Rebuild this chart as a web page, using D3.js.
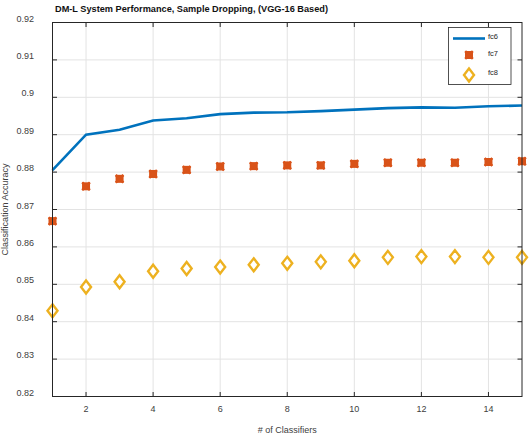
<!DOCTYPE html>
<html>
<head>
<meta charset="utf-8">
<script src="https://cdn.jsdelivr.net/npm/d3@7"></script>
<style>
  body { margin: 0; background: #fff; }
  svg { font-family: "Liberation Sans", Arial, sans-serif; }
</style>
</head>
<body>
<div id="chart"></div>
<script>
// data
const classifiers = [1, 2, 3, 4, 5, 6, 7, 8, 9, 10, 11, 12, 13, 14, 15];
const fc6 = [0.8805, 0.8900, 0.8913, 0.8938, 0.8944, 0.8955, 0.8959, 0.8960, 0.8963, 0.8967, 0.8971, 0.8973, 0.8972, 0.8976, 0.8978];
const fc7 = [0.8669, 0.8762, 0.8782, 0.8795, 0.8806, 0.8815, 0.8816, 0.8818, 0.8818, 0.8822, 0.8825, 0.8825, 0.8825, 0.8827, 0.8829];
const fc8 = [0.8429, 0.8493, 0.8507, 0.8535, 0.8542, 0.8546, 0.8552, 0.8556, 0.8560, 0.8563, 0.8572, 0.8574, 0.8574, 0.8572, 0.8572];
const xTicks = [2, 4, 6, 8, 10, 12, 14];
const yTicks = [0.82, 0.83, 0.84, 0.85, 0.86, 0.87, 0.88, 0.89, 0.90, 0.91, 0.92];

const W = 529, H = 434;
const margin = { top: 22.5, right: 7, bottom: 37.5, left: 52.5 };

const svg = d3.select("#chart").append("svg")
  .attr("width", W).attr("height", H);

const x = d3.scaleLinear().domain([1, 15]).range([margin.left, W - margin.right]);
const y = d3.scaleLinear().domain([0.82, 0.92]).range([H - margin.bottom, margin.top]);

const axisCol = "#262626";
const gridCol = "#e3e3e3";

// grid
svg.append("g").selectAll("line.vg").data(xTicks).join("line")
  .attr("x1", d => x(d)).attr("x2", d => x(d))
  .attr("y1", y(0.82)).attr("y2", y(0.92))
  .attr("stroke", gridCol).attr("stroke-width", 1);
svg.append("g").selectAll("line.hg").data(yTicks).join("line")
  .attr("x1", x(1)).attr("x2", x(15))
  .attr("y1", d => y(d)).attr("y2", d => y(d))
  .attr("stroke", gridCol).attr("stroke-width", 1);

// fc6 line
const line = d3.line().x((d, i) => x(classifiers[i])).y(d => y(d));
svg.append("path").datum(fc6)
  .attr("d", line)
  .attr("fill", "none")
  .attr("stroke", "#0072BD")
  .attr("stroke-width", 2.6);

// fc7 markers (chunky cross)
const crossPath = d3.symbol().type(d3.symbolX).size(40)();
function drawFc7(g, cx, cy) {
  g.append("rect")
    .attr("x", cx - 4).attr("y", cy - 4)
    .attr("width", 8).attr("height", 8)
    .attr("fill", "#D95319");
  g.append("path")
    .attr("d", crossPath)
    .attr("transform", `translate(${cx},${cy})`)
    .attr("fill", "none")
    .attr("stroke", "#D95319")
    .attr("stroke-width", 2.5);
}
const g7 = svg.append("g");
fc7.forEach((v, i) => drawFc7(g7, x(classifiers[i]), y(v)));

// fc8 markers (diamond)
function diamond(cx, cy) {
  return `M${cx},${cy - 6.5}L${cx + 5},${cy}L${cx},${cy + 6.5}L${cx - 5},${cy}Z`;
}
svg.append("g").selectAll("path").data(fc8).join("path")
  .attr("d", (d, i) => diamond(x(classifiers[i]), y(d)))
  .attr("fill", "#fff")
  .attr("stroke", "#EDB120")
  .attr("stroke-width", 2.4);

// box & ticks
const x0 = x(1), x1 = x(15), yB = y(0.82), yT = y(0.92);
svg.append("rect")
  .attr("x", x0).attr("y", yT)
  .attr("width", x1 - x0).attr("height", yB - yT)
  .attr("fill", "none").attr("stroke", axisCol).attr("stroke-width", 1);

const tk = 4.5;
const ticks = svg.append("g").attr("stroke", axisCol).attr("stroke-width", 1);
xTicks.forEach(t => {
  ticks.append("line").attr("x1", x(t)).attr("x2", x(t)).attr("y1", yB).attr("y2", yB - tk);
  ticks.append("line").attr("x1", x(t)).attr("x2", x(t)).attr("y1", yT).attr("y2", yT + tk);
});
yTicks.forEach(t => {
  ticks.append("line").attr("x1", x0).attr("x2", x0 + tk).attr("y1", y(t)).attr("y2", y(t));
  ticks.append("line").attr("x1", x1).attr("x2", x1 - tk).attr("y1", y(t)).attr("y2", y(t));
});

// tick labels
svg.append("g").selectAll("text").data(xTicks).join("text")
  .attr("x", d => x(d)).attr("y", yB + 15)
  .attr("text-anchor", "middle")
  .attr("font-size", 9).attr("fill", "#404040")
  .text(d => d);
svg.append("g").selectAll("text").data(yTicks).join("text")
  .attr("x", 34).attr("y", d => y(d) - 1)
  .attr("text-anchor", "end")
  .attr("font-size", 9).attr("fill", "#404040")
  .text(d => d3.format("")(+d.toFixed(2)));

// axis titles
svg.append("text")
  .attr("x", (x0 + x1) / 2).attr("y", 433)
  .attr("text-anchor", "middle")
  .attr("font-size", 9).attr("fill", "#404040")
  .text("# of Classifiers");
svg.append("text")
  .attr("transform", `translate(8,${(yT + yB) / 2}) rotate(-90)`)
  .attr("text-anchor", "middle")
  .attr("font-size", 9).attr("fill", "#404040")
  .text("Classification Accuracy");

// title
svg.append("text")
  .attr("x", 55).attr("y", 12)
  .attr("font-size", 9.2).attr("font-weight", "bold").attr("fill", "#111")
  .text("DM-L System Performance, Sample Dropping, (VGG-16 Based)");

// legend
const lg = svg.append("g");
lg.append("rect")
  .attr("x", 448.5).attr("y", 27.5)
  .attr("width", 62.5).attr("height", 57)
  .attr("fill", "#fff").attr("stroke", axisCol).attr("stroke-width", 0.8);
lg.append("line")
  .attr("x1", 453).attr("x2", 485).attr("y1", 38.5).attr("y2", 38.5)
  .attr("stroke", "#0072BD").attr("stroke-width", 2.6);
drawFc7(lg, 469, 55);
lg.append("path").attr("d", diamond(469, 75))
  .attr("fill", "#fff").attr("stroke", "#EDB120").attr("stroke-width", 2.4);
[["fc6", 36], ["fc7", 53], ["fc8", 72]].forEach(([t, yy]) => {
  lg.append("text").attr("x", 488).attr("y", yy + 2.5)
    .attr("font-size", 7.5).attr("fill", "#262626").text(t);
});
</script>
</body>
</html>
